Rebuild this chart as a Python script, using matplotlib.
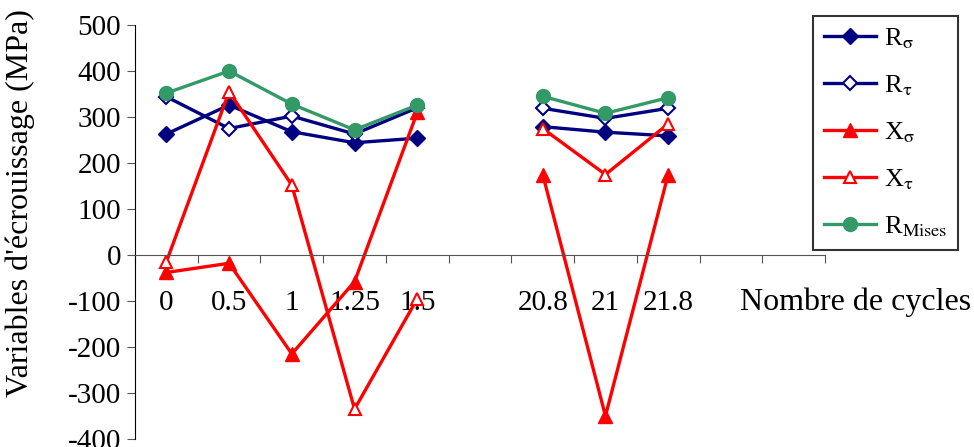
import numpy as np
import matplotlib.pyplot as plt

plt.rcParams['font.family'] = ['Liberation Serif', 'DejaVu Serif']
plt.rcParams['mathtext.fontset'] = 'stix'
plt.rcParams['axes.unicode_minus'] = False

# categories (blank slots are empty columns in the original sheet)
cycles = ['0', '0.5', '1', '1.25', '1.5', '', '20.8', '21', '21.8', '', '']
nan = np.nan
R_sigma = [263, 326, 268, 244, 254, nan, 279, 267, 259, nan, nan]
R_tau = [344, 275, 302, 263, 320, nan, 319, 297, 319, nan, nan]
X_sigma = [-38, -18, -215, -58, 310, nan, 175, -350, 175, nan, nan]
X_tau = [-15, 355, 152, -335, -95, nan, 275, 175, 285, nan, nan]
R_mises = [352, 400, 328, 272, 326, nan, 345, 308, 342, nan, nan]

navy = '#000080'
red = '#FF0000'
green = '#339966'

fig = plt.figure(figsize=(9.74, 4.47), dpi=100)
ax = fig.add_axes([135/974, 8/447, 690/974, 414/447])

x = np.arange(len(cycles)) + 0.5
lw = 2.4
ax.plot(x, R_sigma, color=navy, lw=lw, marker='D', ms=8, mfc=navy, mec=navy, label=r'R$_\mathrm{\sigma}$')
ax.plot(x, R_tau, color=navy, lw=lw, marker='D', ms=7, mfc='white', mec=navy, mew=1.5, label=r'R$_\mathrm{\tau}$')
ax.plot(x, X_sigma, color=red, lw=lw, marker='^', ms=10, mfc=red, mec=red, label=r'X$_\mathrm{\sigma}$')
ax.plot(x, X_tau, color=red, lw=lw, marker='^', ms=9, mfc='white', mec=red, mew=1.5, label=r'X$_\mathrm{\tau}$')
ax.plot(x, R_mises, color=green, lw=lw, marker='o', ms=10, mfc=green, mec=green, label=r'R$_\mathrm{Mises}$')

ax.set_xlim(0, len(cycles))
ax.set_ylim(-400, 500)
ax.set_yticks(range(-400, 501, 100))
ax.set_xticks(range(len(cycles) + 1))
ax.set_xticklabels([])
ax.set_xticks(x, cycles, minor=True)
ax.tick_params(axis='x', which='major', direction='out', length=6, color='#555555')
ax.tick_params(axis='x', which='minor', length=0, pad=25, labelsize=21)
ax.tick_params(axis='y', direction='out', length=6, color='#555555', labelsize=21, pad=4)

ax.spines['top'].set_visible(False)
ax.spines['right'].set_visible(False)
ax.spines['bottom'].set_position(('data', 0))
ax.spines['bottom'].set_color('#555555')

fig.text(20/974, 1 - 203/447, "Variables d'écrouissage (MPa)", rotation=90, fontsize=23,
         ha='center', va='center')
fig.text(740/974, 1 - 302/447, 'Nombre de cycles', fontsize=23, ha='left', va='center')

leg = ax.legend(loc='upper left', bbox_to_anchor=(813/974, 1 - 16/447),
                bbox_transform=fig.transFigure, fontsize=19, frameon=True,
                fancybox=False, edgecolor='black', labelspacing=0.85,
                handlelength=2.0, handletextpad=0.3, borderpad=0.4,
                borderaxespad=0)
leg.get_frame().set_linewidth(1.5)

fig.savefig('out.png', dpi=100)
